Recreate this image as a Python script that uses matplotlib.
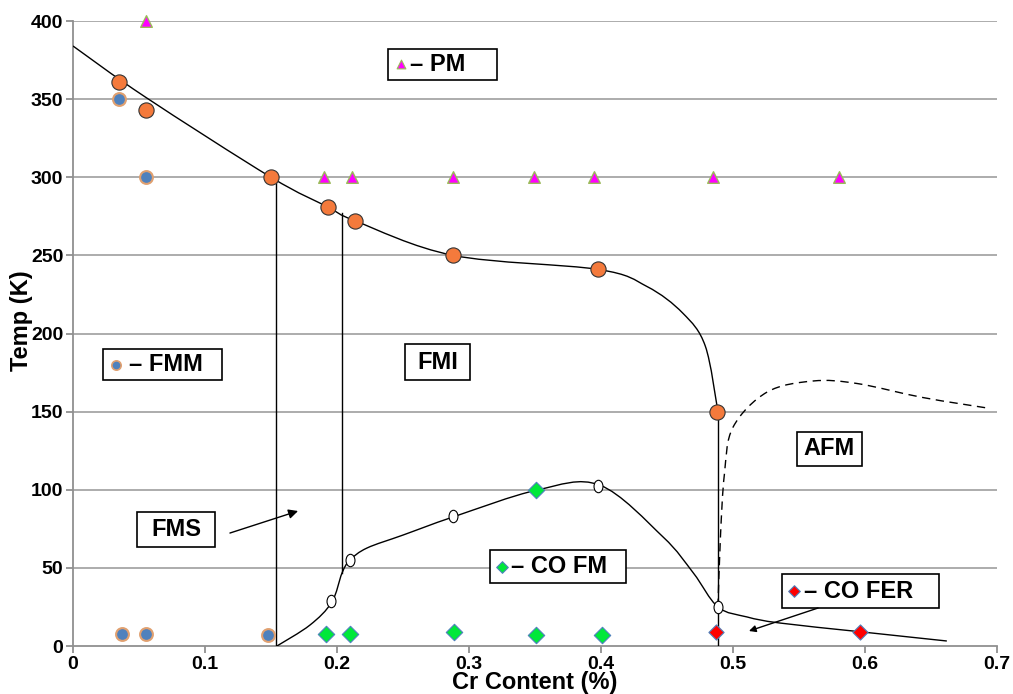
"""
Phase diagram of Temp vs Cr content with smoothed phase boundaries.
"""

import numpy as np
import matplotlib
matplotlib.use('Agg')
import matplotlib.pyplot as plt
from matplotlib.path import Path
from matplotlib.patches import PathPatch, Rectangle
from matplotlib.transforms import Affine2D

plt.rcParams['font.family'] = ['Liberation Sans', 'DejaVu Sans']
plt.rcParams['font.weight'] = 'bold'

# ---- measured points -------------------------------------------------------
# FM -> PM transition (orange)
tc_x = [0.035, 0.055, 0.150, 0.193, 0.214, 0.288, 0.398, 0.488]
tc_y = [361, 343, 300, 281, 272, 250, 241, 150]

# FMM (blue)
fmm_x = [0.035, 0.055, 0.037, 0.055, 0.148]
fmm_y = [350, 300, 8, 8, 7]

# PM (magenta triangles)
pm_x = [0.055, 0.190, 0.211, 0.288, 0.349, 0.395, 0.485, 0.580]
pm_y = [400, 300, 300, 300, 300, 300, 300, 300]

# CO FM (green diamonds)
cofm_x = [0.192, 0.210, 0.289, 0.351, 0.401, 0.351]
cofm_y = [8, 8, 9, 7, 7, 100]

# CO FER (red diamonds)
cofer_x = [0.487, 0.596]
cofer_y = [9, 9]

# charge ordering onset (open circles)
co_pts_x = [0.1955, 0.2098, 0.288, 0.398, 0.4886]
co_pts_y = [29, 55, 83, 102.5, 25]

# ---- boundary knots (drawn as smoothed lines) ------------------------------
tc_line_x = [0, 0.0545, 0.150, 0.193, 0.214, 0.288, 0.398,
             0.435, 0.462, 0.479, 0.4886]
tc_line_y = [384, 351.5, 300, 281, 272, 250, 241,
             230, 213, 192, 150]

co_line_x = [0.1545, 0.1795, 0.196, 0.2038, 0.2098, 0.2227, 0.250, 0.288,
             0.3515, 0.399, 0.447, 0.470, 0.4886, 0.5106, 0.5356,
             0.5977, 0.662]
co_line_y = [0, 13.4, 28, 46.7, 55, 62.7, 71, 82.6,
             99.8, 103, 69.8, 46.7, 25, 18.6, 14.7,
             9, 3.2]

afm_line_x = [0.4886, 0.4905, 0.4935, 0.5000, 0.5258, 0.5606,
              0.594, 0.644, 0.695]
afm_line_y = [25, 70, 110, 140, 162.5, 169.6, 168, 159, 152]

# straight FMS / FMI / AFM separators
sep_x = [0.1538, 0.2035, 0.4886]
sep_top = [299, 277, 150]
sep_bottom = [0, 47, 0]

x_ticks = [0, 0.1, 0.2, 0.3, 0.4, 0.5, 0.6, 0.7]
x_tick_labels = ['0', '0.1', '0.2', '0.3', '0.4', '0.5', '0.6', '0.7']
y_ticks = [0, 50, 100, 150, 200, 250, 300, 350, 400]

ORANGE = '#f47a3c'
BLUE = '#4f81bd'
TAN = '#e0a070'
MAGENTA = '#ff00ff'
GREEN = '#00e83a'
GRID = '#a6a6a6'


def smooth_path(xs, ys):
    """Catmull-Rom knots -> cubic Bezier path (Excel-style smoothed line)."""
    p = np.column_stack([xs, ys]).astype(float)
    ext = np.vstack([p[0], p, p[-1]])
    verts = [p[0]]
    codes = [Path.MOVETO]
    for i in range(1, len(ext) - 2):
        p0, p1, p2, p3 = ext[i - 1], ext[i], ext[i + 1], ext[i + 2]
        c1 = p1 + (p2 - p0) / 6.0
        c2 = p2 - (p3 - p1) / 6.0
        verts += [c1, c2, p2]
        codes += [Path.CURVE4] * 3
    return Path(verts, codes)


def label_box(ax, x0, x1, y0, y1, text, tx=None, marker=None, mx=None, mstyle=None):
    ax.add_patch(Rectangle((x0, y0), x1 - x0, y1 - y0, facecolor='white',
                           edgecolor='black', linewidth=1.2, zorder=6))
    yc = (y0 + y1) / 2
    if marker is None:
        ax.text((x0 + x1) / 2, yc, text, ha='center', va='center',
                fontsize=17, fontweight='bold', zorder=7)
    else:
        ax.scatter([mx], [yc], marker=marker, zorder=7, **mstyle)
        ax.text(tx, yc, text, ha='left', va='center',
                fontsize=17, fontweight='bold', zorder=7)


fig = plt.figure(figsize=(10.13, 6.94), dpi=100)
ax = fig.add_axes([0.07206, 0.06916, 0.91214, 0.90058])

ax.set_xlim(0, 0.7)
ax.set_ylim(0, 400)

# horizontal grid
for yv in y_ticks[1:]:
    ax.axhline(yv, color=GRID, linewidth=1.3, zorder=1)

# phase boundaries
ax.add_patch(PathPatch(smooth_path(tc_line_x, tc_line_y), fill=False,
                       edgecolor='black', linewidth=1.0, zorder=3))
ax.add_patch(PathPatch(smooth_path(co_line_x, co_line_y), fill=False,
                       edgecolor='black', linewidth=1.0, zorder=3))
ax.add_patch(PathPatch(smooth_path(afm_line_x, afm_line_y), fill=False,
                       edgecolor='black', linewidth=1.0, linestyle=(0, (6, 4)),
                       zorder=3))
for xv, yt, yb in zip(sep_x, sep_top, sep_bottom):
    ax.plot([xv, xv], [yb, yt], color='black', linewidth=1.0, zorder=3)

# data markers
ax.scatter(fmm_x, fmm_y, s=85, marker='o', facecolor=BLUE, edgecolor=TAN,
           linewidth=1.5, zorder=4)
ax.scatter(tc_x, tc_y, s=120, marker='o', facecolor=ORANGE, edgecolor='#333333',
           linewidth=0.8, zorder=5)
ax.scatter(pm_x, pm_y, s=70, marker='^', facecolor=MAGENTA, edgecolor='#9bbb59',
           linewidth=1.0, zorder=5, clip_on=False)
ax.scatter(cofm_x, cofm_y, s=70, marker='D', facecolor=GREEN, edgecolor=BLUE,
           linewidth=0.8, zorder=5)
ax.scatter(cofer_x, cofer_y, s=60, marker='D', facecolor='#ff0000', edgecolor=BLUE,
           linewidth=0.8, zorder=5)
ellipse = Path.unit_circle().transformed(Affine2D().scale(0.72, 1.0))
ax.scatter(co_pts_x, co_pts_y, s=80, marker=ellipse, facecolor='white',
           edgecolor='black', linewidth=0.8, zorder=5)

# region labels
label_box(ax, 0.2386, 0.3212, 362.3, 382.2, '– PM', tx=0.2555, marker='^',
          mx=0.2485, mstyle=dict(s=40, facecolor=MAGENTA, edgecolor='#9bbb59', linewidth=0.8))
label_box(ax, 0.0227, 0.1129, 170.2, 190.1, '– FMM', tx=0.0425, marker='o',
          mx=0.0326, mstyle=dict(s=45, facecolor=BLUE, edgecolor=TAN, linewidth=1.2))
label_box(ax, 0.2515, 0.3008, 170.2, 193.3, 'FMI')
label_box(ax, 0.5485, 0.5977, 115.2, 137.0, 'AFM')
label_box(ax, 0.0485, 0.1076, 63.4, 85.8, 'FMS')
label_box(ax, 0.3159, 0.4189, 40.3, 61.4, '– CO FM', tx=0.3320, marker='D',
          mx=0.3250, mstyle=dict(s=35, facecolor=GREEN, edgecolor=BLUE, linewidth=0.8))
label_box(ax, 0.5371, 0.6561, 24.3, 46.1, '– CO FER', tx=0.5540, marker='D',
          mx=0.5462, mstyle=dict(s=35, facecolor='#ff0000', edgecolor=BLUE, linewidth=0.8))

# pointer arrows
ax.annotate('', xy=(0.1705, 86.4), xytext=(0.1189, 72.3),
            arrowprops=dict(arrowstyle='-|>', color='black', lw=1.0,
                            mutation_scale=14, shrinkA=0, shrinkB=0), zorder=6)
ax.annotate('', xy=(0.5121, 9.6), xytext=(0.5644, 24.3),
            arrowprops=dict(arrowstyle='-|>', color='black', lw=1.0,
                            mutation_scale=10, shrinkA=0, shrinkB=0), zorder=6)

# axes styling
for side in ['top', 'right']:
    ax.spines[side].set_visible(False)
for side in ['left', 'bottom']:
    ax.spines[side].set_color('#909090')
    ax.spines[side].set_linewidth(1.3)

ax.set_xticks(x_ticks)
ax.set_xticklabels(x_tick_labels)
ax.set_yticks(y_ticks)
ax.tick_params(axis='both', direction='out', length=5, width=1.3, color='#909090',
               labelsize=14, pad=2)
for lbl in ax.get_xticklabels() + ax.get_yticklabels():
    lbl.set_fontweight('bold')

ax.set_xlabel('Cr Content (%)', fontsize=17, fontweight='bold')
ax.xaxis.label.set_va('center')
ax.xaxis.set_label_coords(0.5, -0.059)
ax.set_ylabel('Temp (K)', fontsize=17, fontweight='bold')
ax.yaxis.label.set_va('center')
ax.yaxis.set_label_coords(-0.0552, 0.52)

plt.savefig('out.png', dpi=100)
plt.close()
